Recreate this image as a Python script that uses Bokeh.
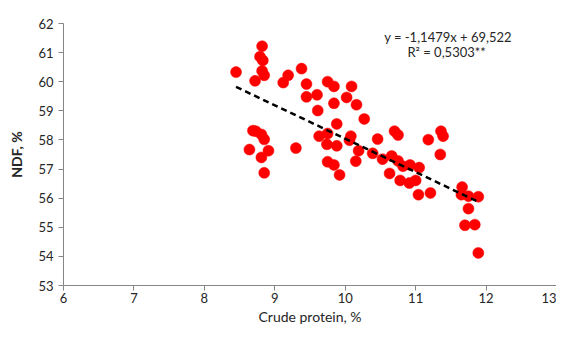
from bokeh.plotting import figure
from bokeh.models import Range1d, FixedTicker, Label, ColumnDataSource
from bokeh.embed import file_html
from bokeh.resources import INLINE

# Crude protein (%) and NDF (%)
crude_protein = [8.45, 8.82, 8.79, 8.83, 8.82, 8.85, 8.72, 9.19, 9.12, 9.38,
                 9.45, 9.45, 9.60, 9.61, 9.75, 9.84, 9.84, 10.09, 10.02, 10.16,
                 10.27, 9.88, 9.63, 9.75, 10.08, 10.06, 9.74, 9.88, 10.19, 8.69,
                 8.73, 8.81, 8.85, 8.64, 8.91, 9.30, 8.81, 8.85, 9.75, 9.84,
                 9.92, 10.15, 10.70, 10.75, 10.46, 10.39, 10.53, 10.66, 10.75, 10.82,
                 10.92, 11.05, 10.63, 10.78, 10.91, 11.00, 11.04, 11.21, 11.18, 11.36,
                 11.39, 11.35, 11.66, 11.65, 11.75, 11.89, 11.75, 11.70, 11.84, 11.89]
ndf = [60.33, 61.22, 60.86, 60.73, 60.37, 60.22, 60.03, 60.22, 59.97, 60.45,
       59.92, 59.48, 59.55, 59.01, 60.00, 59.84, 59.26, 59.84, 59.46, 59.21,
       58.72, 58.55, 58.13, 58.22, 58.13, 57.99, 57.85, 57.80, 57.63, 58.32,
       58.30, 58.19, 58.02, 57.67, 57.63, 57.72, 57.40, 56.87, 57.25, 57.14,
       56.80, 57.27, 58.30, 58.17, 58.03, 57.54, 57.34, 57.45, 57.28, 57.10,
       57.14, 57.05, 56.85, 56.61, 56.52, 56.61, 56.12, 56.18, 58.01, 58.30,
       58.13, 57.50, 56.38, 56.12, 56.07, 56.05, 55.64, 55.07, 55.09, 54.12]

slope = -1.1479
intercept = 69.522
equation_text = "y = -1,1479x + 69,522"
r2_text = "R\u00b2 = 0,5303**"

x_ticks = [6, 7, 8, 9, 10, 11, 12, 13]
y_ticks = [53, 54, 55, 56, 57, 58, 59, 60, 61, 62]

FONT = "Lato"
AXIS_COLOR = "#868686"
TEXT_COLOR = "#262626"

p = figure(width=556, height=327, output_backend="svg", toolbar_location=None,
           x_range=Range1d(6, 13), y_range=Range1d(53, 62),
           min_border_left=63, min_border_right=0, min_border_top=23, min_border_bottom=34)
p.outline_line_color = None
p.grid.visible = False
p.background_fill_color = "white"
p.border_fill_color = "white"

for ax in (p.xaxis[0], p.yaxis[0]):
    ax.axis_line_color = AXIS_COLOR
    ax.major_tick_line_color = AXIS_COLOR
    ax.major_tick_out = 5
    ax.major_tick_in = 0
    ax.minor_tick_line_color = None
    ax.major_label_text_font = FONT
    ax.major_label_text_font_size = "13px"
    ax.major_label_text_color = TEXT_COLOR
    ax.axis_label_text_font = FONT
    ax.axis_label_text_font_size = "14px"
    ax.axis_label_text_color = TEXT_COLOR

p.xaxis.major_label_standoff = 2
p.yaxis.major_label_standoff = 5
p.xaxis.ticker = FixedTicker(ticks=x_ticks)
p.yaxis.ticker = FixedTicker(ticks=y_ticks)
p.xaxis.axis_label = "Crude protein, %"
p.yaxis.axis_label = "NDF, %"
p.yaxis.axis_label_text_font_style = "bold"
p.xaxis.axis_label_text_font_style = "normal"
p.xaxis.axis_label_standoff = 2
p.yaxis.axis_label_standoff = 10

src = ColumnDataSource(dict(x=crude_protein, y=ndf))
p.scatter("x", "y", source=src, size=11, fill_color="#FF0000", line_color="#FF0000", line_width=0.5)

xmin, xmax = min(crude_protein), max(crude_protein)
p.line([xmin, xmax], [slope * xmin + intercept, slope * xmax + intercept],
       line_color="black", line_width=2.5, line_dash="6 4")

p.add_layout(Label(x=11.46, y=61.53, text=equation_text, text_align="center", text_baseline="middle",
                   text_font=FONT, text_font_size="13px", text_color=TEXT_COLOR))
p.add_layout(Label(x=11.44, y=61.03, text=r2_text, text_align="center", text_baseline="middle",
                   text_font=FONT, text_font_size="13px", text_color=TEXT_COLOR))

open("out.html", "w").write(file_html(p, INLINE))
